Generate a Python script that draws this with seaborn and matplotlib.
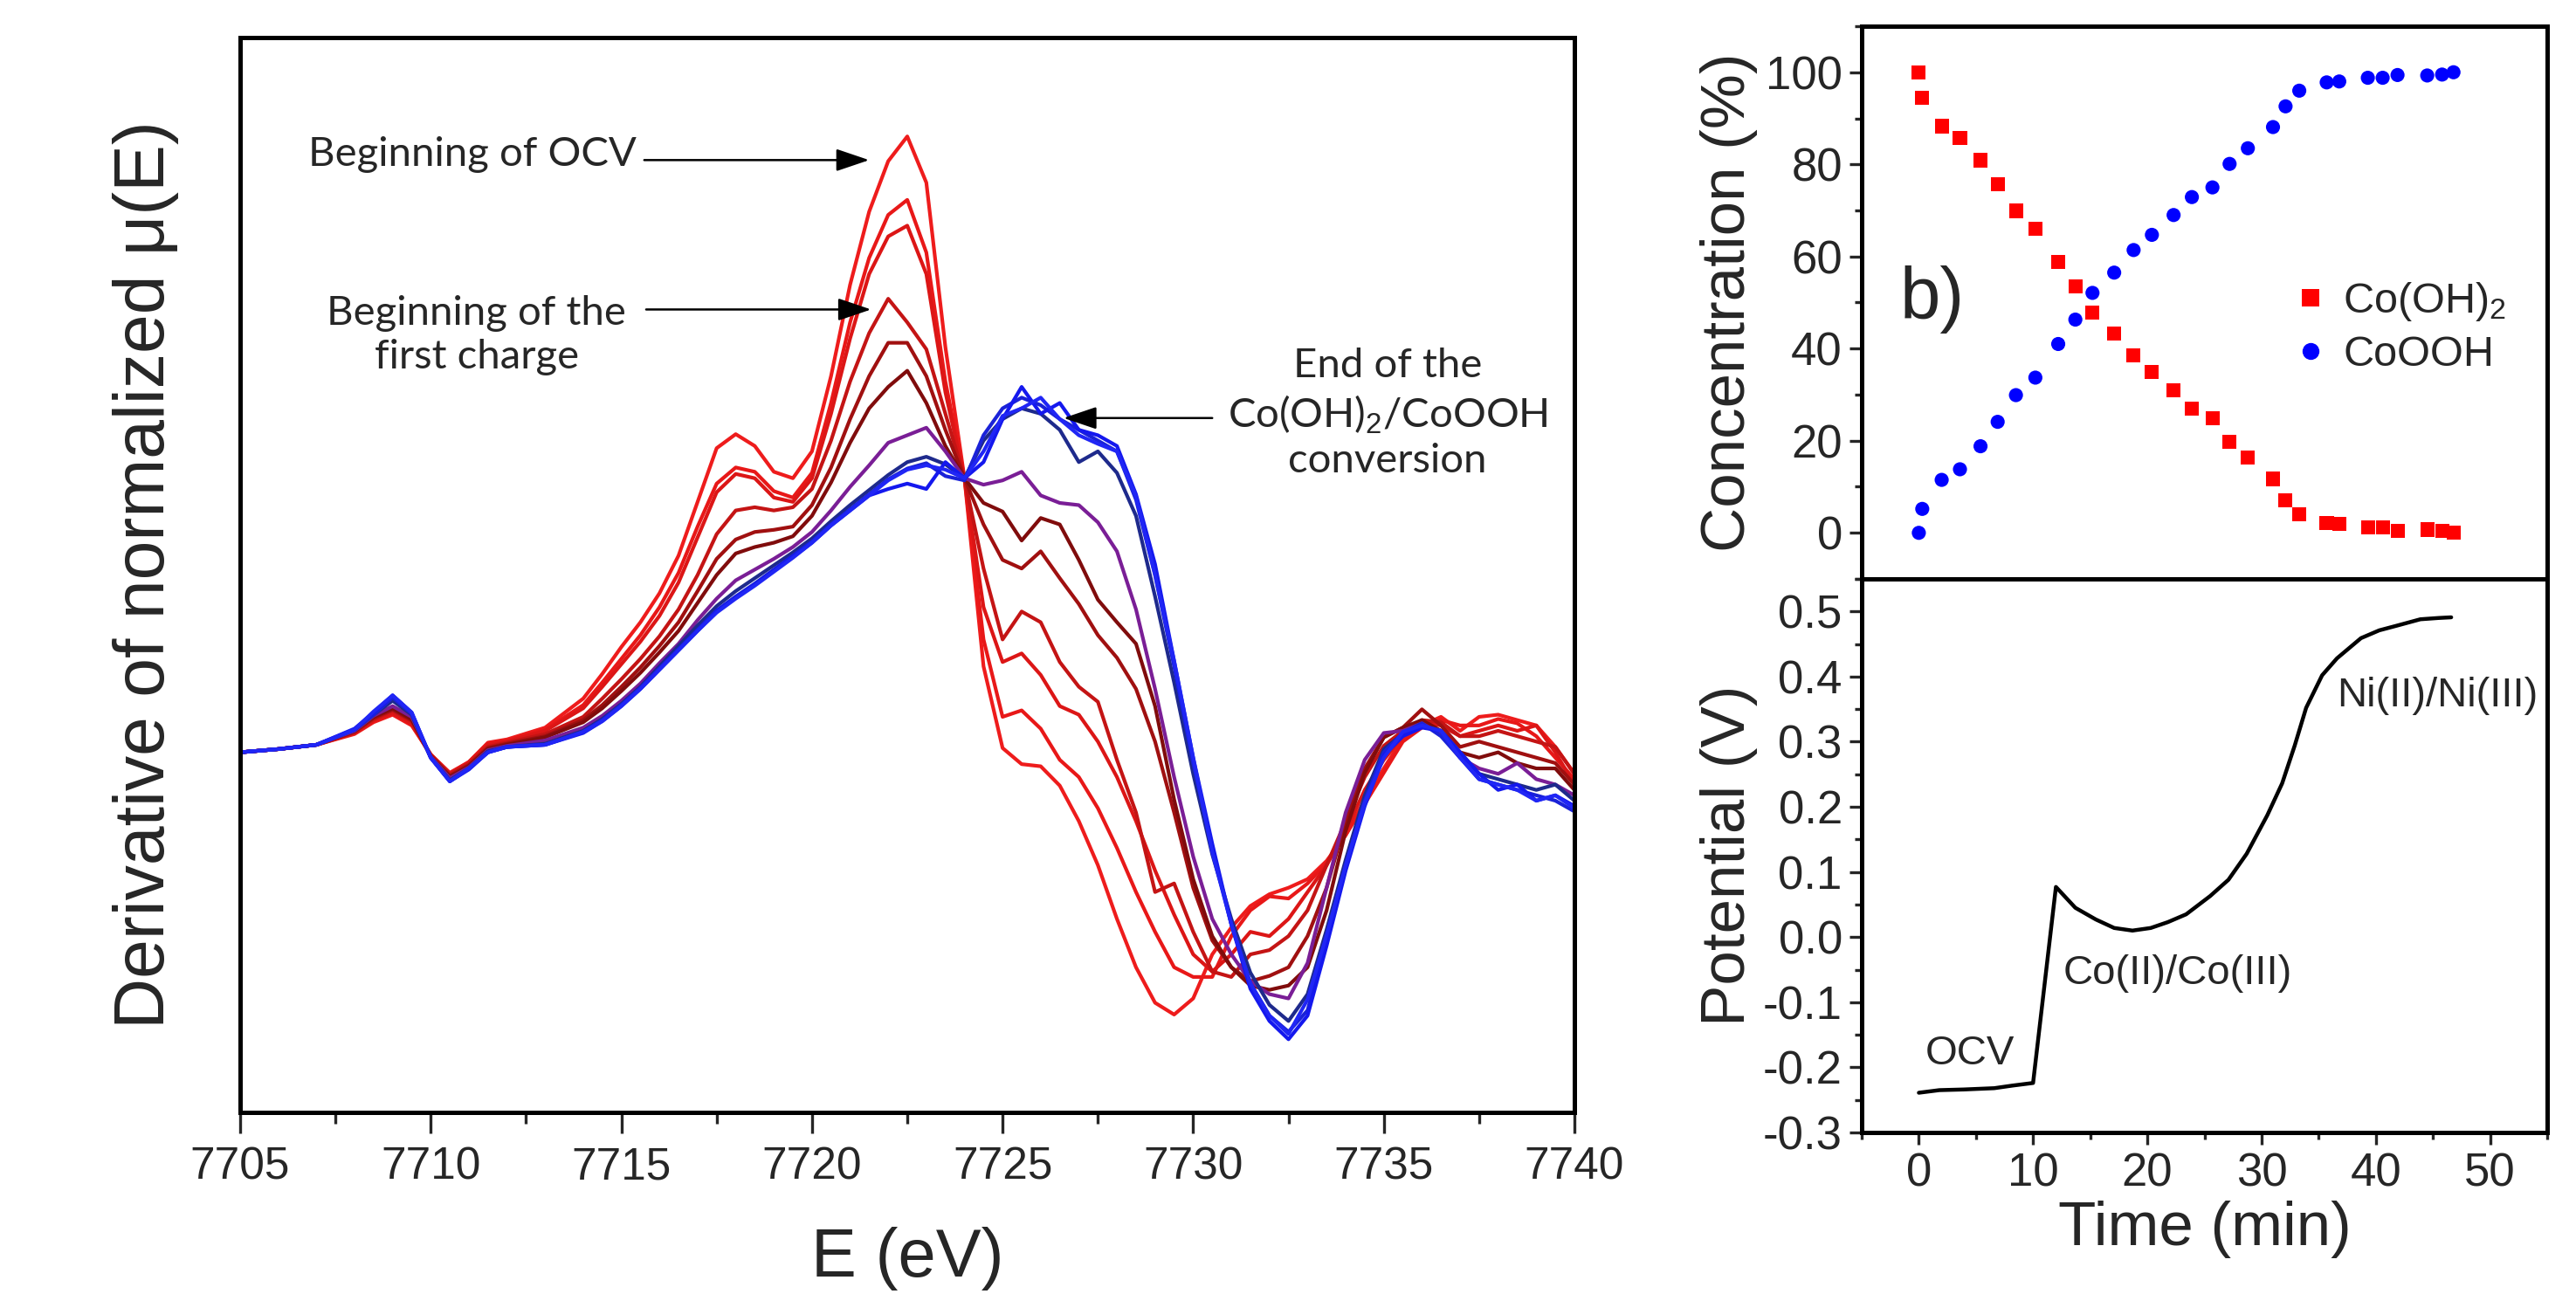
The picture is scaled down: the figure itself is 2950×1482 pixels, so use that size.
import numpy as np
import pandas as pd
import matplotlib
matplotlib.use("Agg")
import matplotlib.pyplot as plt
import seaborn as sns
from matplotlib.ticker import MultipleLocator, FormatStrFormatter

# ---------------- data ----------------
energy = [7705, 7706, 7707, 7708, 7708.5, 7709, 7709.5, 7710, 7710.5, 7711, 7711.5, 7712, 7713,
          7714, 7714.5, 7715, 7715.5, 7716, 7716.5, 7717, 7717.5, 7718, 7718.5, 7719, 7719.5,
          7720, 7720.5, 7721, 7721.5, 7722, 7722.5, 7723, 7723.5, 7724,
          7724.5, 7725, 7725.5, 7726, 7726.5, 7727, 7727.5, 7728, 7728.5, 7729, 7729.5,
          7730, 7730.5, 7731, 7731.5, 7732, 7732.5, 7733, 7733.5, 7734, 7734.5, 7735,
          7735.5, 7736, 7736.5, 7737, 7737.5, 7738, 7738.5, 7739, 7739.5, 7740]

scan_01 = [33.5, 33.8, 34.2, 35.2, 36.3, 37.0, 36.0, 33.3, 31.6, 32.6, 34.4, 34.7, 35.8,
           38.5, 40.8, 43.3, 45.6, 48.3, 51.8, 56.8, 61.8, 63.1, 62.0, 59.6, 59.0, 61.5, 68.5, 77.0, 83.8, 88.5, 90.8, 86.5, 71.2, 59.0,
           41.5, 33.9, 32.4, 32.2, 30.4, 27.1, 23.0, 18.0, 13.5, 10.2, 9.1, 10.6, 14.7, 17.2, 19.2, 20.3, 20.9, 21.7, 23.4, 25.8, 29.1, 32.0,
           34.8, 36.0, 36.8, 35.5, 36.8, 37.0, 36.5, 36.0, 34.0, 31.5]
scan_02 = [33.5, 33.8, 34.2, 35.3, 36.4, 37.1, 36.1, 33.3, 31.5, 32.6, 34.3, 34.6, 35.6,
           37.9, 40.0, 42.2, 44.4, 47.0, 50.2, 54.5, 58.5, 60.0, 59.6, 57.8, 57.2, 59.5, 66.0, 73.5, 79.5, 83.5, 84.9, 80.0, 68.0, 59.0,
           44.0, 36.8, 37.4, 35.7, 32.8, 31.2, 28.3, 24.6, 20.5, 16.8, 13.5, 12.6, 12.6, 16.4, 18.8, 20.1, 19.9, 21.3, 23.2, 25.8, 28.7, 31.6,
           34.5, 35.8, 36.5, 36.0, 36.0, 36.6, 36.2, 35.0, 33.0, 31.0]
scan_03 = [33.5, 33.8, 34.2, 35.3, 36.5, 37.2, 36.2, 33.2, 31.5, 32.5, 34.2, 34.5, 35.5,
           37.6, 39.6, 41.7, 43.8, 46.2, 49.3, 53.5, 57.7, 59.4, 59.0, 57.2, 56.8, 59.0, 65.0, 72.0, 78.0, 81.5, 82.5, 78.0, 67.0, 59.0,
           47.0, 41.9, 42.7, 40.7, 37.8, 37.0, 34.5, 31.2, 27.1, 22.5, 18.4, 14.7, 13.1, 14.7, 16.8, 16.4, 18.0, 20.5, 23.0, 26.2, 30.0, 32.8,
           35.0, 36.3, 36.0, 35.0, 35.5, 36.0, 35.5, 36.0, 33.5, 30.5]
scan_04 = [33.5, 33.8, 34.2, 35.4, 36.6, 37.4, 36.4, 33.2, 31.4, 32.4, 34.0, 34.4, 35.2,
           36.8, 38.5, 40.3, 42.2, 44.3, 46.8, 50.0, 53.8, 56.0, 56.3, 56.0, 56.3, 58.0, 62.5, 68.0, 72.5, 75.7, 73.5, 71.0, 65.0, 59.0,
           50.6, 44.0, 46.6, 45.6, 41.9, 39.6, 38.2, 32.8, 27.9, 20.5, 21.3, 16.8, 13.1, 12.6, 14.7, 15.1, 16.4, 18.8, 23.0, 27.1, 31.2, 34.1,
           35.5, 36.5, 36.3, 35.0, 35.0, 35.5, 35.0, 34.5, 34.0, 31.5]
scan_05 = [33.5, 33.8, 34.2, 35.4, 36.7, 37.5, 36.5, 33.2, 31.3, 32.3, 33.9, 34.3, 35.0,
           36.5, 37.9, 39.6, 41.4, 43.4, 45.6, 48.5, 51.5, 53.3, 54.0, 54.2, 54.5, 56.5, 60.0, 64.5, 68.5, 71.6, 71.6, 68.5, 63.5, 59.0,
           54.7, 51.4, 50.6, 52.2, 49.7, 47.3, 44.4, 42.3, 39.4, 34.5, 27.9, 20.9, 16.0, 13.5, 12.2, 12.7, 13.5, 16.4, 20.9, 27.1, 32.0, 34.9,
           35.8, 37.5, 36.0, 34.0, 34.5, 34.0, 33.5, 33.0, 32.5, 30.5]
scan_06 = [33.5, 33.8, 34.2, 35.5, 36.8, 37.6, 36.6, 33.1, 31.2, 32.2, 33.8, 34.2, 34.9,
           36.3, 37.6, 39.2, 40.9, 42.8, 44.8, 47.4, 50.0, 52.0, 52.6, 53.0, 53.6, 55.5, 58.6, 62.3, 65.5, 67.5, 69.0, 66.0, 62.0, 59.0,
           56.7, 55.9, 53.2, 55.3, 54.7, 51.4, 47.7, 45.6, 43.6, 37.8, 29.1, 21.7, 16.4, 13.5, 11.8, 11.4, 11.8, 13.5, 18.8, 26.2, 31.6, 34.9,
           35.8, 36.5, 35.5, 33.5, 33.0, 33.5, 32.5, 32.0, 32.0, 30.0]
scan_07 = [33.5, 33.8, 34.2, 35.5, 36.9, 37.8, 36.8, 33.1, 31.1, 32.1, 33.7, 34.1, 34.6,
           35.8, 36.9, 38.3, 39.9, 41.8, 43.6, 45.8, 47.8, 49.5, 50.5, 51.5, 52.6, 54.0, 56.0, 58.2, 60.2, 62.3, 63.0, 63.7, 61.5, 59.0,
           58.4, 58.8, 59.6, 57.4, 56.7, 56.5, 54.9, 52.2, 46.8, 39.4, 31.2, 23.8, 18.0, 14.7, 12.2, 11.0, 10.6, 13.9, 20.9, 27.9, 32.8, 35.3,
           35.5, 36.2, 35.2, 33.0, 32.0, 31.5, 32.5, 31.0, 30.5, 29.5]
scan_08 = [33.5, 33.8, 34.2, 35.6, 37.0, 38.3, 37.0, 33.0, 30.9, 32.0, 33.6, 34.0, 34.3,
           35.5, 36.6, 38.0, 39.6, 41.5, 43.4, 45.3, 47.1, 48.5, 49.7, 50.9, 52.1, 53.4, 55.0, 56.5, 57.9, 59.3, 60.5, 61.0, 60.3, 59.0,
           62.5, 64.5, 65.5, 65.0, 63.5, 60.5, 61.5, 59.5, 55.5, 48.0, 40.0, 31.5, 24.0, 18.0, 13.0, 10.0, 8.5, 11.0, 17.0, 23.5, 29.5, 33.8,
           35.2, 36.0, 35.5, 33.5, 31.5, 31.0, 30.5, 30.0, 30.5, 29.0]
scan_09 = [33.5, 33.8, 34.2, 35.6, 37.0, 38.6, 37.1, 33.0, 30.8, 32.0, 33.5, 34.0, 34.2,
           35.4, 36.5, 37.9, 39.5, 41.3, 43.1, 44.9, 46.7, 48.0, 49.2, 50.5, 51.8, 53.1, 54.7, 56.1, 57.5, 58.9, 59.9, 60.4, 59.2, 58.8,
           63.0, 65.5, 66.5, 65.8, 64.5, 63.5, 62.5, 61.5, 57.0, 50.0, 41.5, 32.5, 24.5, 17.5, 12.0, 9.0, 7.5, 9.5, 16.0, 23.0, 29.0, 33.5,
           35.3, 36.2, 35.0, 33.0, 31.0, 30.5, 30.0, 29.5, 29.0, 28.0]
scan_10 = [33.5, 33.8, 34.2, 35.7, 37.2, 38.8, 37.2, 33.0, 30.8, 31.9, 33.5, 34.0, 34.2,
           35.3, 36.4, 37.8, 39.4, 41.2, 43.0, 44.8, 46.6, 47.9, 49.1, 50.4, 51.7, 53.0, 54.6, 56.0, 57.4, 58.0, 58.5, 58.0, 60.5, 59.0,
           60.5, 64.5, 67.5, 65.0, 66.0, 63.5, 63.0, 62.0, 57.5, 51.0, 42.0, 33.0, 25.0, 17.5, 11.5, 8.5, 6.8, 9.0, 15.5, 22.5, 28.5, 33.2,
           35.0, 35.8, 35.5, 33.5, 31.5, 30.0, 30.5, 29.0, 29.5, 28.5]
scan_11 = [33.5, 33.8, 34.2, 35.6, 37.3, 38.8, 37.2, 33.0, 30.8, 32.0, 33.5, 34.0, 34.2,
           35.4, 36.4, 37.8, 39.4, 41.2, 43.0, 44.8, 46.5, 47.8, 49.0, 50.3, 51.6, 53.0, 54.6, 56.0, 57.4, 58.8, 59.8, 60.2, 59.8, 59.0,
           61.5, 64.8, 65.5, 66.5, 64.5, 63.0, 62.2, 61.5, 57.3, 50.0, 42.0, 33.0, 24.2, 17.5, 12.0, 9.0, 7.3, 10.5, 16.5, 23.0, 28.8, 33.0,
           35.4, 36.0, 35.5, 33.0, 31.0, 30.5, 30.0, 29.0, 29.5, 28.3]

scan_names = ["s01", "s02", "s03", "s04", "s05", "s06", "s07", "s08", "s09", "s10", "s11"]
scan_colors = ["#ee1c1c", "#e81818", "#dc1616", "#c41414", "#a01010", "#800c0c",
               "#7a1e96", "#1e2a8c", "#1a22d8", "#1418ee", "#2026f5"]

time_conc = [0.0, 0.3, 2.0, 3.6, 5.4, 6.9, 8.5, 10.2, 12.2, 13.7, 15.2, 17.1, 18.8, 20.4, 22.3,
             23.9, 25.7, 27.2, 28.8, 31.0, 32.1, 33.3, 35.7, 36.8, 39.3, 40.6, 41.9, 44.5, 45.8, 46.8]
conc_cooh2 = [100, 94.5, 88.3, 85.8, 80.9, 75.7, 69.9, 66.1, 58.8, 53.5, 47.8, 43.2, 38.5, 35.0, 30.9,
              27.0, 24.9, 19.8, 16.3, 11.7, 7.0, 4.0, 2.1, 1.9, 1.2, 1.2, 0.4, 0.7, 0.4, 0.0]
conc_coooh = [0, 5.2, 11.5, 13.8, 18.8, 24.1, 29.9, 33.7, 41.0, 46.3, 52.1, 56.5, 61.4, 64.7, 69.0,
              72.9, 75.0, 80.1, 83.5, 88.1, 92.6, 96.0, 97.8, 98.0, 98.8, 98.8, 99.4, 99.3, 99.5, 100]

time_pot = [0, 1.8, 3.9, 6.6, 8.2, 10.0, 12.0, 13.7, 15.5, 17.1, 18.7, 20.3, 21.8, 23.4, 25.5,
            27.1, 28.7, 30.5, 31.8, 32.9, 33.9, 35.3, 36.6, 38.7, 40.3, 41.8, 43.9, 45.5, 46.6]
potential = [-0.239, -0.235, -0.234, -0.232, -0.228, -0.224, 0.077, 0.045, 0.027, 0.014, 0.010,
             0.014, 0.023, 0.035, 0.063, 0.088, 0.128, 0.187, 0.236, 0.294, 0.352, 0.402, 0.428,
             0.459, 0.471, 0.478, 0.488, 0.490, 0.491]

# ---------------- style ----------------
sns.set_style("ticks")
plt.rcParams["font.family"] = ["Liberation Sans", "DejaVu Sans"]
plt.rcParams["axes.unicode_minus"] = False
plt.rcParams["mathtext.fontset"] = "custom"
plt.rcParams["mathtext.rm"] = "Liberation Sans"
plt.rcParams["mathtext.it"] = "Liberation Sans:italic"
plt.rcParams["mathtext.bf"] = "Liberation Sans:bold"

SPINE_W = 3.6

fig = plt.figure(figsize=(29.5, 14.82), dpi=100)

# ---------------- left panel ----------------
axL = fig.add_axes([275 / 2950, (1482 - 1274) / 1482, 1528 / 2950, 1231 / 1482])
scans = [scan_01, scan_02, scan_03, scan_04, scan_05, scan_06, scan_07, scan_08, scan_09, scan_10, scan_11]
df = pd.DataFrame({
    "E": np.tile(energy, len(scans)),
    "dmu": np.concatenate(scans),
    "scan": np.repeat(scan_names, len(energy)),
})
sns.lineplot(data=df, x="E", y="dmu", hue="scan", palette=dict(zip(scan_names, scan_colors)),
             estimator=None, sort=False, lw=3.0, legend=False, ax=axL)
axL.set_xlim(7705, 7740)
axL.set_ylim(0, 100)
axL.set_yticks([])
axL.xaxis.set_major_locator(MultipleLocator(5))
axL.xaxis.set_minor_locator(MultipleLocator(2.5))
axL.tick_params(axis="x", which="major", direction="out", length=17, width=2.4, labelsize=37, pad=11,
                bottom=True, top=False)
axL.tick_params(axis="x", which="minor", direction="out", length=9, width=2.4, bottom=True, top=False)
for s in axL.spines.values():
    s.set_linewidth(SPINE_W)
    s.set_color("black")
axL.set_xlabel("E (eV)", fontsize=56)
axL.xaxis.set_label_coords(0.5, (1274 - 1462) / 1231)
axL.xaxis.label.set_va("baseline")
axL.set_ylabel("Derivative of normalized \u03bc(E)", fontsize=58)
axL.yaxis.set_label_coords((188 - 275) / 1528, 0.5)
axL.yaxis.label.set_va("baseline")

ann_font = ["Lato", "DejaVu Sans"]
arrow_kw = dict(arrowstyle="-|>,head_length=0.65,head_width=0.22", color="black", lw=1.8,
                mutation_scale=36, shrinkA=0, shrinkB=0)
axL.annotate("", xy=(7721.5, 88.6), xytext=(7715.6, 88.6), arrowprops=arrow_kw)
axL.text(7715.4, 89.1, "Beginning of OCV", ha="right", va="center", fontsize=34, family=ann_font)
axL.annotate("", xy=(7721.55, 74.7), xytext=(7715.65, 74.7), arrowprops=arrow_kw)
axL.text(7711.2, 72.3, "Beginning of the\nfirst charge", ha="center", va="center", fontsize=34,
         family=ann_font, linespacing=1.25)
axL.annotate("", xy=(7726.6, 64.6), xytext=(7730.5, 64.6), arrowprops=arrow_kw)
axL.text(7735.1, 65.0, "End of the\nCo(OH)$_2$/CoOOH\nconversion", ha="center", va="center",
         fontsize=34, family=ann_font, linespacing=1.25)

# ---------------- right top panel ----------------
axT = fig.add_axes([2132 / 2950, (1482 - 663) / 1482, 785 / 2950, (663 - 30) / 1482])
lab_a = "Co(OH)$_2$"
lab_b = "CoOOH"
cdf = pd.DataFrame({
    "time": time_conc + time_conc,
    "conc": conc_cooh2 + conc_coooh,
    "species": [lab_a] * len(time_conc) + [lab_b] * len(time_conc),
})
sns.scatterplot(data=cdf, x="time", y="conc", hue="species", style="species",
                palette={lab_a: "#ff0000", lab_b: "#0000ff"}, markers={lab_a: "s", lab_b: "o"},
                s=135, edgecolor="none", linewidth=0, ax=axT)
axT.set_xlim(-5, 55)
axT.set_ylim(-10, 110)
axT.yaxis.set_major_locator(MultipleLocator(20))
axT.yaxis.set_minor_locator(MultipleLocator(10))
axT.xaxis.set_major_locator(MultipleLocator(10))
axT.xaxis.set_minor_locator(MultipleLocator(5))
axT.tick_params(axis="y", which="major", direction="out", length=10, width=2.4, labelsize=38, pad=6)
axT.tick_params(axis="y", which="minor", direction="out", length=6, width=2.4)
axT.tick_params(axis="x", which="both", direction="out", length=4, width=2, labelbottom=False)
for s in axT.spines.values():
    s.set_linewidth(SPINE_W)
    s.set_color("black")
axT.set_xlabel("")
axT.set_ylabel("Concentration (%)", fontsize=51)
axT.yaxis.set_label_coords((1998 - 2132) / 785, 0.5)
axT.yaxis.label.set_va("baseline")
axT.text(-1.7, 50.6, "b)", ha="left", va="center", fontsize=60)
sns.move_legend(axT, "center left", bbox_to_anchor=(0.624, 0.455), frameon=False, title=None,
                fontsize=35, handlelength=1.0, handletextpad=0.26, labelspacing=0.3, borderpad=0,
                borderaxespad=0, markerscale=1.2)

# ---------------- right bottom panel ----------------
axB = fig.add_axes([2132 / 2950, (1482 - 1297) / 1482, 785 / 2950, (1297 - 663) / 1482])
sns.lineplot(x=time_pot, y=potential, sort=False, estimator=None, color="black", lw=3.2, ax=axB)
axB.set_xlim(-5, 55)
axB.set_ylim(-0.3, 0.55)
axB.xaxis.set_major_locator(MultipleLocator(10))
axB.xaxis.set_minor_locator(MultipleLocator(5))
axB.yaxis.set_major_locator(MultipleLocator(0.1))
axB.yaxis.set_minor_locator(MultipleLocator(0.05))
axB.yaxis.set_major_formatter(FormatStrFormatter("%.1f"))
axB.tick_params(axis="both", which="major", direction="out", length=10, width=2.4, labelsize=38, pad=6)
axB.tick_params(axis="both", which="minor", direction="out", length=6, width=2.4)
for s in axB.spines.values():
    s.set_linewidth(SPINE_W)
    s.set_color("black")
axB.set_xlabel("Time (min)", fontsize=51, labelpad=4)
axB.set_ylabel("Potential (V)", fontsize=51)
axB.yaxis.set_label_coords((1998 - 2132) / 785, 0.5)
axB.yaxis.label.set_va("baseline")
axB.text(4.5, -0.179, "OCV", ha="center", va="center", fontsize=34)
axB.text(12.6, -0.056, "Co(II)/Co(III)", ha="left", va="center", fontsize=34)
axB.text(36.6, 0.370, "Ni(II)/Ni(III)", ha="left", va="center", fontsize=34)

fig.savefig("out.png", dpi=100)
